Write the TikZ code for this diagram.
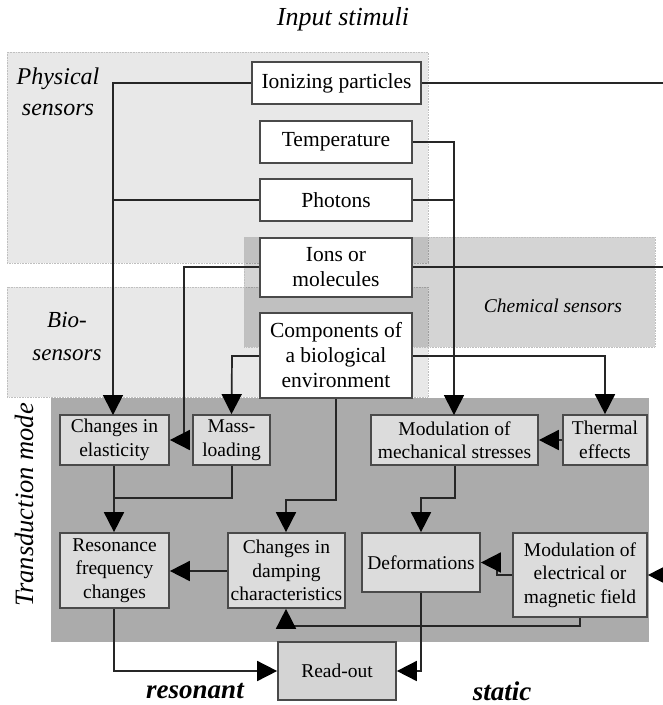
\documentclass[tikz,border=0pt]{standalone}
\usepackage{fontspec}
\setmainfont{Liberation Serif}
\usetikzlibrary{arrows.meta}

\definecolor{physfill}{HTML}{E8E8E8}
\definecolor{transfill}{HTML}{ABABAB}
\definecolor{innerfill}{HTML}{DCDCDC}
\definecolor{readfill}{HTML}{D4D4D4}
\definecolor{edgegrey}{HTML}{4A4A4A}
\definecolor{wiregrey}{HTML}{262626}

\tikzset{
  region/.style={draw=black!25, densely dotted, line width=0.6pt},
  blockbase/.style={draw=edgegrey, line width=1.7pt, align=center, inner sep=0pt},
  inbox/.style={blockbase, fill=white, font=\fontsize{21.5}{25}\selectfont},
  tbox/.style={blockbase, fill=innerfill, font=\fontsize{19.5}{23.5}\selectfont},
  wire/.style={draw=wiregrey, line width=1.7pt},
  arr/.style={wire, -{Triangle[length=20pt, width=20pt, color=black, fill=black]}},
  caption/.style={font=\fontsize{24}{31}\selectfont\itshape, align=center},
  modelabel/.style={font=\fontsize{27}{30}\selectfont\bfseries\itshape}
}

\begin{document}
\begin{tikzpicture}[x=1pt, y=-1pt]
  \useasboundingbox (0,0) rectangle (663,705);

  % sensor groups and transduction area
  \fill[physfill] (7,52) rectangle (428,263);
  \draw[region] (7,52) rectangle (428,263);
  \fill[physfill] (7,287) rectangle (428,397);
  \draw[region] (7,287) rectangle (428,397);
  \fill[black, opacity=0.17] (244,237) rectangle (655,347);
  \draw[region] (244,237) rectangle (655,347);
  \fill[transfill] (51,398) rectangle (649,642);

  % captions
  \node[font=\fontsize{26}{30}\selectfont\itshape] (title) at (343,19) {Input stimuli};
  \node[caption] (physlbl) at (58,92) {Physical\\sensors};
  \node[caption, font=\fontsize{23}{33}\selectfont\itshape] (biolbl) at (67,336) {Bio-\\sensors};
  \node[font=\fontsize{19.5}{23}\selectfont\itshape] (chemlbl) at (553,306) {Chemical sensors};
  \node[font=\fontsize{26.5}{30}\selectfont\itshape, rotate=90] (translbl) at (24,505) {Transduction mode};
  \node[modelabel] (reslbl) at (195,691) {resonant};
  \node[modelabel] (statlbl) at (502,691) {static};

  % input stimuli
  \node[inbox, line width=2.3pt, minimum width=169pt, minimum height=42pt] (ion) at (336.5,83) {Ionizing particles};
  \node[inbox, minimum width=152pt, minimum height=42pt] (temp) at (336,142) {Temperature};
  \node[inbox, minimum width=152pt, minimum height=42pt] (phot) at (336,200) {Photons};
  \node[inbox, minimum width=152pt, minimum height=59pt] (ions) at (336,267.5) {Ions or\\molecules};
  \node[inbox, minimum width=152pt, minimum height=85pt] (comp) at (336,355.5) {Components of\\a biological\\environment};

  % transduction blocks
  \node[tbox, minimum width=109pt, minimum height=50pt] (elas) at (114.5,440) {Changes in\\elasticity};
  \node[tbox, minimum width=77pt, minimum height=50pt] (mass) at (231.5,440) {Mass-\\loading};
  \node[tbox, minimum width=167pt, minimum height=50pt] (mech) at (454.5,440) {Modulation of\\mechanical stresses};
  \node[tbox, minimum width=84pt, minimum height=50pt] (therm) at (605,440) {Thermal\\effects};
  \node[tbox, minimum width=109pt, minimum height=75pt] (reso) at (114.5,570.5) {Resonance\\frequency\\changes};
  \node[tbox, minimum width=117pt, minimum height=75pt] (damp) at (286.5,570.5) {Changes in\\damping\\characteristics};
  \node[tbox, minimum width=118pt, minimum height=59pt] (deform) at (421,562.5) {Deformations};
  \node[tbox, minimum width=134pt, minimum height=84pt] (field) at (580,575) {Modulation of\\electrical or\\magnetic field};
  \node[tbox, fill=readfill, minimum width=118pt, minimum height=58pt] (read) at (337,671) {Read-out};

  % loose ends leaving / entering at the right margin
  \coordinate (ionout) at (663,83);
  \coordinate (ionsout) at (663,267);
  \coordinate (fieldin) at (663,575);

  % connectors from the stimuli
  \draw[arr] (ion.west) -- (113,83) -- (113,415);
  \draw[wire] (phot.west) -- (113,200);
  \draw[wire] (ion.east) -- (ionout);
  \draw[arr] (temp.east) -- (454,142) -- (454,415);
  \draw[wire] (phot.east) -- (454,200);
  \draw[arr] (ions.west |- 0,267) -- (184,267) -- (184,440) -- (elas.east);
  \draw[wire] (ions.east |- 0,267) -- (ionsout);
  \draw[arr] (comp.west |- 0,356) -- (232,356) -- (mass.north);
  \draw[arr] (comp.east |- 0,356) -- (605,356) -- (therm.north);
  \draw[arr] (comp.south) -- (336,500) -- (286,500) -- (damp.north -| 286,0);

  % connectors inside the transduction area
  \draw[arr] (therm.west) -- (mech.east);
  \draw[arr] (mech.south -| 455,0) -- (455,498) -- (421,498) -- (deform.north);
  \draw[arr] (elas.south -| 114,0) -- (reso.north -| 114,0);
  \draw[wire] (mass.south -| 232,0) -- (232,498) -- (114,498);
  \draw[arr] (damp.west |- 0,571) -- (reso.east |- 0,571);
  \draw[arr] (field.west) -- (497,575) -- (497,562.5) -- (deform.east);
  \draw[arr] (field.south) -- (580,626) -- (286,626) -- (damp.south -| 286,0);
  \draw[arr] (fieldin) -- (field.east);

  % read-out paths
  \draw[arr] (reso.south -| 114,0) -- (114,671) -- (read.west);
  \draw[arr] (deform.south) -- (421,671) -- (read.east);
\end{tikzpicture}
\end{document}
